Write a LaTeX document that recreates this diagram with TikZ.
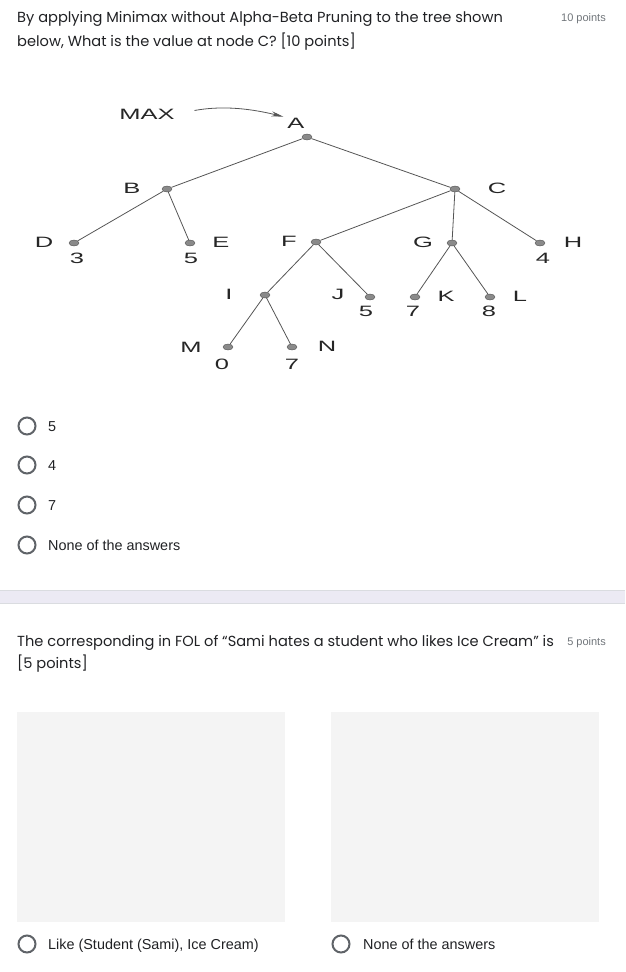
\documentclass[tikz,border=0pt]{standalone}
\usepackage{fontspec}
\setmainfont{Poppins}
\newfontfamily\optfont{Liberation Sans}
\newfontfamily\treefont[FakeStretch=1.7]{Liberation Sans}
\usetikzlibrary{shapes.geometric,arrows.meta}
\definecolor{ink}{HTML}{202124}
\definecolor{radiogray}{HTML}{5F6368}
\definecolor{pointgray}{HTML}{70757A}
\definecolor{bandcol}{HTML}{ECEAF4}
\definecolor{bandedge}{HTML}{DADCE0}
\definecolor{boxgray}{HTML}{F4F4F4}
\definecolor{linegray}{HTML}{555555}
\definecolor{dotgray}{HTML}{8A8A8A}
\begin{document}
\begin{tikzpicture}[
    x=1pt, y=-1pt,
    every node/.style={inner sep=0pt, anchor=base west, text=ink},
    question/.style={font=\fontsize{14.6}{17}\selectfont},
    pts/.style={font=\optfont\fontsize{11}{13}\selectfont, text=pointgray, anchor=base east},
    answer/.style={font=\optfont\fontsize{14.4}{17}\selectfont},
    radio/.style={draw=radiogray, line width=2pt, circle, minimum size=17pt, anchor=center},
    dot/.style={ellipse, fill=dotgray, draw=linegray, line width=0.4pt, minimum width=10pt, minimum height=6pt, anchor=center},
    tlbl/.style={font=\treefont\fontsize{15}{17}\selectfont, anchor=center, text=black!85},
    branch/.style={draw=linegray, line width=0.8pt}
]
\useasboundingbox (0,0) rectangle (625,972);
\node[question] (q1a) at (17,22) {By applying Minimax without Alpha-Beta Pruning to the tree shown};
\node[question] (q1b) at (17,46) {below, What is the value at node C? [10 points]};
\node[pts] (q1pts) at (606,21) {10 points};

\node[dot] (a) at (307,137) {};
\node[dot] (b) at (167,189) {};
\node[dot] (c) at (455,189) {};
\node[dot] (d) at (74,243) {};
\node[dot] (e) at (190,243) {};
\node[dot] (f) at (316,242) {};
\node[dot] (g) at (452,243) {};
\node[dot] (h) at (540,243) {};
\node[dot] (i) at (265,295) {};
\node[dot] (j) at (370,297) {};
\node[dot] (k) at (415,297) {};
\node[dot] (l) at (490,297) {};
\node[dot] (m) at (228,347) {};
\node[dot] (n) at (292,347) {};
\draw[branch] (a) -- (b) (a) -- (c) (b) -- (d) (b) -- (e)
    (c) -- (f) (c) -- (g) (c) -- (h) (f) -- (i) (f) -- (j)
    (i) -- (m) (i) -- (n) (g) -- (k) (g) -- (l);

\node[tlbl] (maxlbl) at (147,114) {MAX};
\node[tlbl] (albl) at (296,123) {A};
\draw[branch, -{Stealth[length=12pt, width=5pt]}, shorten <=20pt, shorten >=4pt]
    (maxlbl.east) to[bend left=12] (albl.north west);
\node[tlbl] (blbl) at (132,188) {B};
\node[tlbl] (clbl) at (497,188) {C};
\node[tlbl] (dlbl) at (44,242) {D};
\node[tlbl] (dval) at (77,258) {3};
\node[tlbl] (elbl) at (221,242) {E};
\node[tlbl] (eval) at (191,258) {5};
\node[tlbl] (flbl) at (289,241) {F};
\node[tlbl] (glbl) at (423,242) {G};
\node[tlbl] (hlbl) at (573,242) {H};
\node[tlbl] (hval) at (543,258) {4};
\node[tlbl] (ilbl) at (229,294) {I};
\node[tlbl] (jlbl) at (338,294) {J};
\node[tlbl] (jval) at (366,311) {5};
\node[tlbl] (klbl) at (446,296) {K};
\node[tlbl] (kval) at (413,311) {7};
\node[tlbl] (llbl) at (520,296) {L};
\node[tlbl] (lval) at (489,311) {8};
\node[tlbl] (mlbl) at (191,347) {M};
\node[tlbl] (mval) at (222,364) {0};
\node[tlbl] (nlbl) at (327,346) {N};
\node[tlbl] (nval) at (292,364) {7};

\node[radio] (r1) at (27,426) {};
\node[answer] (o1) at (48,431) {5};
\node[radio] (r2) at (27,465) {};
\node[answer] (o2) at (48,470) {4};
\node[radio] (r3) at (27,505) {};
\node[answer] (o3) at (48,510) {7};
\node[radio] (r4) at (27,545) {};
\node[answer] (o4) at (48,550) {None of the answers};

\fill[bandcol] (0,590) rectangle (625,603);
\draw[bandedge] (0,590) -- (625,590) (0,603) -- (625,603);

\node[question] (q2a) at (17,646) {The corresponding in FOL of “Sami hates a student who likes Ice Cream” is};
\node[pts] (q2pts) at (606,645) {5 points};
\node[question] (q2b) at (17,668) {[5 points]};

\fill[boxgray] (17,712) rectangle (285,922);
\fill[boxgray] (331,712) rectangle (599,922);
\node[radio] (r5) at (27,944) {};
\node[answer] (o5) at (48,949) {Like (Student (Sami), Ice Cream)};
\node[radio] (r6) at (341,944) {};
\node[answer] (o6) at (363,949) {None of the answers};
\end{tikzpicture}
\end{document}
